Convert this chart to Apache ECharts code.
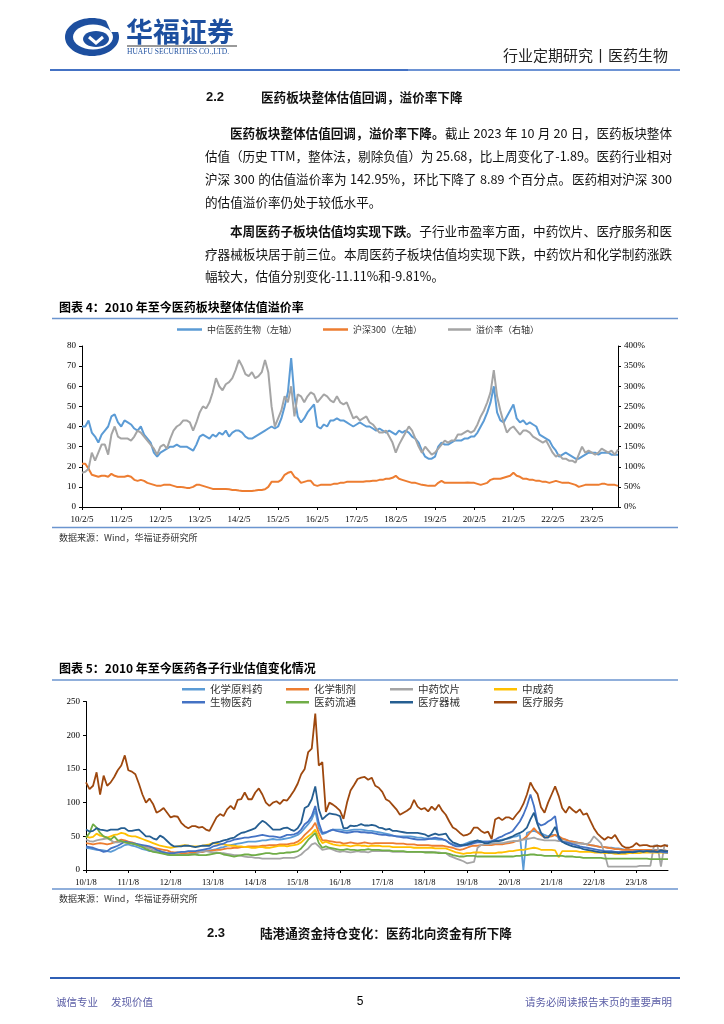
<!DOCTYPE html>
<html><head><meta charset="utf-8">
<script src="https://cdn.jsdelivr.net/npm/echarts@6/dist/echarts.min.js"></script>
<style>html,body{margin:0;padding:0;background:#fff}#c{width:724px;height:1024px}</style>
</head><body><div id="c"></div><script>
// ---------- Chart 1 data (monthly, Feb 2010 – Oct 2023) ----------
const xTicks1 = ['10/2/5','11/2/5','12/2/5','13/2/5','14/2/5','15/2/5','16/2/5','17/2/5','18/2/5','19/2/5','20/2/5','21/2/5','22/2/5','23/2/5'];
const pharmaPE = [
40,40,43,37,35,32,36,38,40,45,46,42,
40,43,42,41,39,38,40,36,34,32,27,25,
27,28,29,30,30,31,30,30,30,29,28,31,
35,36,35,34,36,35,37,36,38,35,37,38,
38,37,35,34,34,35,36,37,38,39,40,39,
40,44,50,57,74,55,45,42,44,47,49,51,
40,39,41,40,43,43,44,43,43,42,41,40,
41,42,41,40,40,39,38,39,38,37,38,37,
36,38,37,38,37,35,34,32,28,25,24,24,
25,30,32,31,31,32,33,33,33,34,34,35,
35,37,40,43,47,52,60,47,43,42,45,48,
51,44,42,43,41,42,41,40,36,35,34,33,
30,28,25,26,27,26,25,24,24,25,26,27,
27,27,26,27,27,27,26,26,26];
const hs300PE = [
21.5,21.5,19,16,15.5,15,15.5,15.5,15,16.5,15.5,15,
15,15,15.5,15,13.5,13,13.5,13,12,11.5,11,10.5,
10.5,11,11,11,10.5,10,10,9.8,9.5,9.5,10,11,
11,10.5,10,9.5,9,9,9,9,9,8.8,8.5,8.5,
8.2,8,8,8,8,8.2,8.5,8.5,8.8,10,12.5,12.5,
12.5,13.5,16,17,17.5,15,14,12,12.5,13,13,11,
10.5,11,11,11,11,11.5,11.5,12,12,12.5,12.5,12.5,
12.5,12.5,12.5,12.8,12.8,13,13,13.5,13.5,14,14,14.5,
15.5,14,13.5,13,12.5,12,12,11.5,11,10.8,10.5,10.5,
10.5,12,13,12,12,12,12,12,12,12,12.2,12,
12,11.5,11,11.5,12,13.5,14,14,14,14.5,15,15.5,
17,15.5,15,14,14,13.5,13.5,13,13,12.5,12.5,12,
12.5,13,12.5,12,12,12,11.5,11,10,10.5,11,11,
11,11,11,11.5,11.5,11,11,11,10.5];
const premiumPct = [
85,87.5,95,135,115,135,155,155,130,180,200,175,
170,170,170,165,175,190,185,175,165,155,145,130,
150,155,145,170,190,200,205,215,215,210,190,210,
235,250,245,260,285,320,300,290,305,310,320,340,
365,350,330,325,335,320,325,335,365,335,250,200,
220,240,275,260,300,225,280,275,260,275,285,280,
260,270,280,275,265,260,275,260,255,260,240,220,
225,215,220,225,210,205,195,185,185,190,175,160,
135,155,170,185,200,190,170,150,135,150,140,130,
135,145,155,165,160,165,165,180,180,185,190,185,
190,205,225,240,260,285,340,275,240,210,185,195,
200,190,180,190,190,185,175,170,165,160,165,150,
135,125,130,120,120,115,115,110,130,150,135,140,
135,130,135,145,140,135,140,130,143];

// ---------- Chart 2 data (monthly, Jan 2010 – Oct 2023) ----------
const xTicks2 = ['10/1/8','11/1/8','12/1/8','13/1/8','14/1/8','15/1/8','16/1/8','17/1/8','18/1/8','19/1/8','20/1/8','21/1/8','22/1/8','23/1/8'];
const chemAPI = [
33,32,31,30,30,29,28,27,29,32,34,37,
38,36,35,33,31,30,28,28,27,26,25,23,
22,22,23,23,23,24,25,25,26,27,28,29,
30,31,33,34,36,37,38,39,40,41,42,42,
42,43,44,44,45,46,45,45,46,47,48,50,
52,56,62,68,75,88,62,53,55,58,60,60,
60,59,58,59,60,60,60,59,58,58,57,56,
55,54,53,51,50,50,50,50,50,49,48,48,
47,47,46,46,45,45,44,40,38,37,37,38,
40,42,43,43,43,42,42,42,43,44,45,46,
47,49,50,52,0,55,57,58,56,55,52,50,
52,52,48,46,45,43,42,41,40,39,38,37,
36,35,34,34,33,33,32,32,31,30,30,30,
29,29,29,30,30,30,30,30,29,28];
const chemPrep = [
40,39,38,39,40,39,38,39,41,43,45,44,
42,41,39,37,36,35,34,33,32,31,30,29,
27,26,26,25,25,25,26,26,27,27,28,28,
29,30,30,31,32,32,33,33,34,34,35,35,
35,35,36,36,37,37,37,38,38,38,39,40,
42,46,52,57,62,70,55,44,44,43,42,41,
41,39,40,41,40,39,40,41,40,39,40,40,
40,40,40,40,39,39,39,38,38,38,37,37,
37,37,36,36,36,36,35,34,33,31,30,31,
33,35,36,36,37,37,37,37,38,38,38,39,
40,41,43,44,46,50,56,62,56,52,48,49,
50,52,50,47,45,43,42,41,40,39,38,37,
36,35,34,34,33,32,31,31,30,30,30,30,
30,30,30,30,30,29,29,29,29,28];
const tcmPieces = [
45,43,42,44,45,46,47,44,41,41,42,41,
40,39,38,36,35,33,32,30,29,28,27,25,
23,23,22,22,22,23,23,24,26,28,28,27,
26,26,25,25,24,23,22,22,21,20,19,19,
18,18,17,17,17,17,17,17,18,18,18,18,
20,23,28,32,38,40,35,30,31,32,30,28,
27,28,27,26,27,28,27,27,26,28,28,28,
28,28,28,27,27,27,27,27,27,27,27,27,
27,27,27,26,26,25,25,21,19,17,15,13,
10,11,12,33,37,38,38,39,40,40,40,41,
42,43,43,44,45,46,47,48,46,45,44,44,
44,44,43,43,42,41,40,40,39,39,38,42,
50,45,40,25,5,5,5,5,5,5,5,5,
5,6,6,6,6,36,37,5,37,37];
const tcmPatent = [
50,48,49,54,51,50,48,50,52,53,55,54,
51,50,50,48,46,44,42,40,38,36,35,34,
33,34,35,36,37,36,35,35,35,36,37,38,
40,39,38,38,37,36,36,35,35,34,34,33,
33,34,34,33,33,34,35,36,36,35,36,37,
38,41,46,50,54,60,48,40,42,40,38,37,
36,37,36,35,36,37,36,36,35,36,36,36,
35,35,35,34,34,34,34,34,34,33,33,33,
33,33,33,32,32,32,32,30,28,26,25,24,
25,25,26,26,26,25,25,25,25,26,26,27,
28,28,29,30,30,31,32,33,32,30,30,30,
30,29,19,28,28,28,28,28,27,27,27,27,
26,26,26,25,25,25,24,24,24,24,25,25,
25,25,26,26,26,26,26,26,26,25];
const biopharma = [
35,34,33,31,29,27,28,32,34,36,39,42,
41,40,39,38,37,36,35,33,30,28,26,25,
25,25,26,27,27,28,28,28,29,30,31,32,
35,36,38,39,42,43,45,46,47,48,48,49,
50,51,52,51,50,50,49,48,50,52,52,53,
55,60,68,72,80,95,70,55,56,58,60,58,
57,56,55,56,57,57,56,56,55,55,54,53,
52,52,51,51,50,49,48,48,47,46,45,45,
45,46,47,48,47,46,44,40,37,35,35,36,
37,38,40,41,41,42,42,43,45,48,50,53,
55,58,65,72,82,95,112,95,70,66,68,72,
75,80,46,42,41,40,38,37,35,34,33,32,
31,30,29,28,28,28,27,27,27,27,27,27,
28,28,28,28,27,27,27,27,26,26];
const distribution = [
48,55,68,63,55,50,48,45,50,44,43,41,
40,39,38,36,34,31,29,27,26,25,24,23,
22,22,22,22,22,22,23,23,22,22,22,23,
24,25,25,23,22,21,20,21,22,23,23,22,
22,23,24,25,25,24,24,25,25,26,26,27,
28,32,38,45,50,55,40,33,35,33,32,31,
30,30,31,30,30,29,30,30,31,30,30,30,
29,29,29,28,28,28,28,27,27,27,27,27,
26,26,26,26,25,25,25,24,22,21,20,20,
21,21,21,20,20,20,20,20,20,20,20,20,
20,20,21,21,22,22,23,23,22,22,21,21,
21,21,21,21,20,20,20,19,19,18,18,18,
18,18,18,17,17,17,17,17,17,17,17,17,
17,17,17,17,16,16,16,16,16,16];
const devices = [
60,57,58,62,60,59,58,60,60,60,62,62,
58,58,59,60,55,50,50,47,45,51,48,43,
38,35,35,35,36,36,35,34,35,36,36,36,
40,41,42,44,45,47,48,52,55,56,58,60,
62,68,73,70,65,60,60,60,62,63,60,58,
62,70,92,95,105,124,90,75,80,84,83,82,
80,62,62,66,65,66,68,66,66,67,66,63,
62,60,61,58,58,57,56,55,55,55,55,54,
53,50,52,54,52,53,54,46,41,39,37,37,
38,40,42,44,42,40,40,42,43,43,44,46,
48,50,53,55,58,63,75,85,68,55,48,48,
55,64,50,42,39,37,35,34,33,31,30,29,
28,27,26,27,26,26,26,25,26,26,27,26,
27,28,27,28,28,28,27,29,28,28];
const services = [
130,120,125,145,112,140,125,130,138,148,155,170,
148,146,142,128,112,100,106,98,85,88,92,85,
78,80,79,70,65,62,65,65,63,64,60,58,
68,78,83,80,90,95,90,104,105,115,105,105,
115,121,112,100,95,100,102,98,104,103,110,118,
128,142,150,175,180,232,155,160,86,100,97,93,
88,76,100,118,126,135,137,138,134,137,125,122,
116,105,102,96,90,82,85,88,92,104,94,90,
92,87,94,89,97,88,82,72,63,60,55,51,
52,55,63,63,58,55,57,46,75,78,74,78,
78,75,82,88,98,112,130,120,113,93,85,100,
112,124,110,92,85,94,89,85,90,82,84,73,
62,54,49,45,49,47,52,43,36,33,33,35,
40,36,37,37,35,35,36,35,37,35];

// month categories
function monthList(y0, m0, y1, m1) {
  const out = []; let y = y0, m = m0;
  while (y < y1 || (y === y1 && m <= m1)) { out.push(y + '-' + (m < 10 ? '0' : '') + m); m++; if (m > 12) { m = 1; y++; } }
  return out;
}
const months1 = monthList(2010, 2, 2023, 10);
const months2 = monthList(2010, 1, 2023, 10);

// ---------- text helpers ----------
const CJK = '"Noto Sans CJK SC", "Noto Sans", sans-serif';
const SERIF = '"Liberation Serif", "DejaVu Serif", serif';
const ARIAL = '"Liberation Sans", Arial, sans-serif';
const ctx2d = document.createElement('canvas').getContext('2d');
function tw(t, size, weight) { ctx2d.font = (weight || 'normal') + ' ' + size + 'px ' + CJK; return ctx2d.measureText(t).width; }
function chunks(segs) {
  const out = [];
  segs.forEach(s => {
    let cur = '', sp = false;
    const push = () => { if (cur) { out.push({ t: cur, b: s.b, sp: sp }); cur = ''; sp = false; } };
    for (const ch of s.t) {
      if (ch === ' ') { push(); sp = true; continue; }
      if (ch === '（') push();
      cur += ch;
      if ('，。、）：'.indexOf(ch) >= 0) push();
    }
    push();
  });
  return out;
}
function lineEls(segs, x0, y, x1, size) {
  const cs = chunks(segs);
  const spW = tw(' ', size);
  const ws = cs.map(c => tw(c.t, size, c.b ? 'bold' : 'normal'));
  let nat = 0; cs.forEach((c, i) => { nat += ws[i] + (i > 0 && c.sp ? spW : 0); });
  const extra = (x1 != null && cs.length > 1) ? (x1 - x0 - nat) / (cs.length - 1) : 0;
  let x = x0; const els = [];
  cs.forEach((c, i) => {
    if (i > 0) x += extra + (c.sp ? spW : 0);
    els.push({ type: 'text', x: x, y: y, style: { text: c.t, fontSize: size, fontFamily: CJK, fontWeight: c.b ? 'bold' : 'normal', fill: '#111', verticalAlign: 'middle' } });
    x += ws[i];
  });
  return els;
}
function T(text, x, y, o) {
  o = o || {};
  return { type: 'text', x: x, y: y, style: Object.assign({ text: text, fontSize: 12, fontFamily: CJK, fill: '#111', verticalAlign: 'middle', align: 'left' }, o) };
}
function L(x1, y1, x2, y2, color, w) {
  return { type: 'line', shape: { x1: x1, y1: y1, x2: x2, y2: y2 }, style: { stroke: color, lineWidth: w } };
}

const BS = 12.6, X0 = 205, X1 = 672;
let g = [];
// logo
g.push({ type: 'ellipse', shape: { cx: 92, cy: 37, rx: 27, ry: 19 }, style: { fill: '#1d4f9f' } });
g.push({ type: 'ellipse', shape: { cx: 93, cy: 37, rx: 20, ry: 12.5 }, style: { fill: '#fff' } });
g.push({ type: 'polygon', shape: { points: [[104, 16], [122, 16], [122, 32], [111, 32]] }, style: { fill: '#fff' } });
g.push({ type: 'ellipse', shape: { cx: 96, cy: 39, rx: 13, ry: 8 }, style: { fill: '#1d4f9f' } });
g.push({ type: 'polyline', shape: { points: [[89, 37], [96, 43], [103, 37]] }, style: { stroke: '#fff', lineWidth: 3, fill: null } });
g.push(T('华福证券', 126, 32, { fontSize: 27, fontWeight: 'bold', fill: '#1d4f9f' }));
g.push(L(127, 46, 237, 46, '#9a9a9a', 2));
g.push(T('HUAFU SECURITIES CO.,LTD.', 127, 52.5, { fontSize: 7.5, fontFamily: SERIF, fill: '#1d4f9f' }));
// header
g.push(T('行业定期研究丨医药生物', 668, 55, { fontSize: 15, align: 'right', fill: '#222' }));
g.push(L(50, 70, 408, 70, '#4472c4', 2));
g.push(L(408, 70, 680, 70, '#6d93d4', 2));
// heading 2.2
g.push(T('2.2', 206, 97, { fontSize: 13, fontFamily: ARIAL, fontWeight: 'bold' }));
g.push(T('医药板块整体估值回调，溢价率下降', 261, 97, { fontSize: BS, fontWeight: 'bold' }));
// paragraph 1
g = g.concat(lineEls([{ t: '医药板块整体估值回调，溢价率下降。', b: true }, { t: '截止 2023 年 10 月 20 日，医药板块整体' }], 230, 133, X1, BS));
g = g.concat(lineEls([{ t: '估值（历史 TTM，整体法，剔除负值）为 25.68，比上周变化了-1.89。医药行业相对' }], X0, 156.5, X1, BS));
g = g.concat(lineEls([{ t: '沪深 300 的估值溢价率为 142.95%，环比下降了 8.89 个百分点。医药相对沪深 300' }], X0, 179.5, X1, BS));
g = g.concat(lineEls([{ t: '的估值溢价率仍处于较低水平。' }], X0, 202, null, BS));
// paragraph 2
g = g.concat(lineEls([{ t: '本周医药子板块估值均实现下跌。', b: true }, { t: '子行业市盈率方面，中药饮片、医疗服务和医' }], 230, 231, X1, BS));
g = g.concat(lineEls([{ t: '疗器械板块居于前三位。本周医药子板块估值均实现下跌，中药饮片和化学制药涨跌' }], X0, 254, X1, BS));
g = g.concat(lineEls([{ t: '幅较大，估值分别变化-11.11%和-9.81%。' }], X0, 276.5, null, BS));
// chart 1 frame
g.push(T('图表 4：2010 年至今医药板块整体估值溢价率', 59, 307, { fontSize: 12, fontWeight: 'bold', fill: '#000' }));
g.push(L(52, 318.5, 678, 318.5, '#6b95cf', 1.5));
g.push(L(52, 527.5, 678, 527.5, '#6b95cf', 1.5));
g.push(T('数据来源：Wind，华福证券研究所', 59, 538, { fontSize: 9, fill: '#333' }));
// chart 2 frame
g.push(T('图表 5：2010 年至今医药各子行业估值变化情况', 59, 668, { fontSize: 12, fontWeight: 'bold', fill: '#000' }));
g.push(L(52, 680, 678, 680, '#6b95cf', 1.5));
g.push(L(52, 889, 678, 889, '#6b95cf', 1.5));
g.push(T('数据来源：Wind，华福证券研究所', 59, 899, { fontSize: 9, fill: '#333' }));
// heading 2.3
g.push(T('2.3', 207, 933, { fontSize: 13, fontFamily: ARIAL, fontWeight: 'bold' }));
g.push(T('陆港通资金持仓变化：医药北向资金有所下降', 260, 933, { fontSize: BS, fontWeight: 'bold' }));
// footer
g.push(L(50, 978, 680, 978, '#2f5fb5', 2));
g.push(T('诚信专业', 56, 1002, { fontSize: 10.5, fill: '#5b5ea6' }));
g.push(T('发现价值', 111, 1002, { fontSize: 10.5, fill: '#5b5ea6' }));
g.push(T('5', 360, 1002, { fontSize: 12, fontFamily: ARIAL, align: 'center', fill: '#000' }));
g.push(T('请务必阅读报告末页的重要声明', 672, 1002, { fontSize: 10.5, align: 'right', fill: '#5b5ea6' }));

// ---------- axes helpers ----------
const axLine = { show: true, lineStyle: { color: '#000', width: 1 } };
const axTick = { show: true, inside: false, length: 3, lineStyle: { color: '#000', width: 1 } };
function catAxis(grid, data, ticks, fs, mg) {
  return {
    type: 'category', gridIndex: grid, data: data, boundaryGap: false,
    axisLine: axLine, axisTick: Object.assign({ interval: 11 }, axTick),
    axisLabel: { interval: 11, margin: mg, fontSize: fs, fontFamily: SERIF, color: '#000', formatter: (v, i) => ticks[Math.round(i / 12)] || '' },
    splitLine: { show: false }
  };
}
function valAxis(grid, max, interval, pos, fmt) {
  return {
    type: 'value', gridIndex: grid, min: 0, max: max, interval: interval, position: pos,
    axisLine: axLine, axisTick: axTick,
    axisLabel: { margin: 6, fontSize: 9, fontFamily: SERIF, color: '#000', formatter: fmt || '{value}' },
    splitLine: { show: false }
  };
}
function legendAt(name, left, top, w, fs) {
  return { data: [name], left: left, top: top, padding: 0, itemWidth: w, itemHeight: 2.5, icon: 'rect', selectedMode: false,
    textStyle: { fontSize: fs, fontFamily: CJK, color: '#333' } };
}
function ln(name, data, color, xi, yi, w) {
  return { name: name, type: 'line', data: data, xAxisIndex: xi, yAxisIndex: yi, symbol: 'none', showSymbol: false,
    lineStyle: { color: color, width: w }, itemStyle: { color: color } };
}

const c2cols = [182, 286, 390, 494];
const option = {
  animation: false,
  backgroundColor: '#fff',
  textStyle: { fontFamily: CJK },
  graphic: { elements: g },
  grid: [
    { left: 82, top: 346, width: 536, height: 161 },
    { left: 86, top: 701.5, width: 582, height: 168.5 }
  ],
  xAxis: [catAxis(0, months1, xTicks1, 9, 8), catAxis(1, months2, xTicks2, 8.5, 8)],
  yAxis: [valAxis(0, 80, 10, 'left'), valAxis(0, 400, 50, 'right', '{value}%'), valAxis(1, 250, 50, 'left')],
  legend: [
    legendAt('中信医药生物（左轴）', 177, 325, 25, 9),
    legendAt('沪深300（左轴）', 323, 325, 25, 9),
    legendAt('溢价率（右轴）', 448, 325, 23, 9),
    legendAt('化学原料药', c2cols[0], 684, 23, 10.5),
    legendAt('化学制剂', c2cols[1], 684, 23, 10.5),
    legendAt('中药饮片', c2cols[2], 684, 23, 10.5),
    legendAt('中成药', c2cols[3], 684, 23, 10.5),
    legendAt('生物医药', c2cols[0], 697, 23, 10.5),
    legendAt('医药流通', c2cols[1], 697, 23, 10.5),
    legendAt('医疗器械', c2cols[2], 697, 23, 10.5),
    legendAt('医疗服务', c2cols[3], 697, 23, 10.5)
  ],
  series: [
    ln('中信医药生物（左轴）', pharmaPE, '#5b9bd5', 0, 0, 2),
    ln('沪深300（左轴）', hs300PE, '#ed7d31', 0, 0, 2),
    ln('溢价率（右轴）', premiumPct, '#a5a5a5', 0, 1, 2),
    ln('化学原料药', chemAPI, '#5b9bd5', 1, 2, 1.8),
    ln('化学制剂', chemPrep, '#ed7d31', 1, 2, 1.8),
    ln('中药饮片', tcmPieces, '#a5a5a5', 1, 2, 1.8),
    ln('中成药', tcmPatent, '#ffc000', 1, 2, 1.8),
    ln('生物医药', biopharma, '#4472c4', 1, 2, 1.8),
    ln('医药流通', distribution, '#70ad47', 1, 2, 1.8),
    ln('医疗器械', devices, '#255e91', 1, 2, 1.8),
    ln('医疗服务', services, '#9e480e', 1, 2, 1.8)
  ]
};
const chart = echarts.init(document.getElementById('c'), null, { renderer: 'canvas', width: 724, height: 1024 });
chart.setOption(option);
</script></body></html>
